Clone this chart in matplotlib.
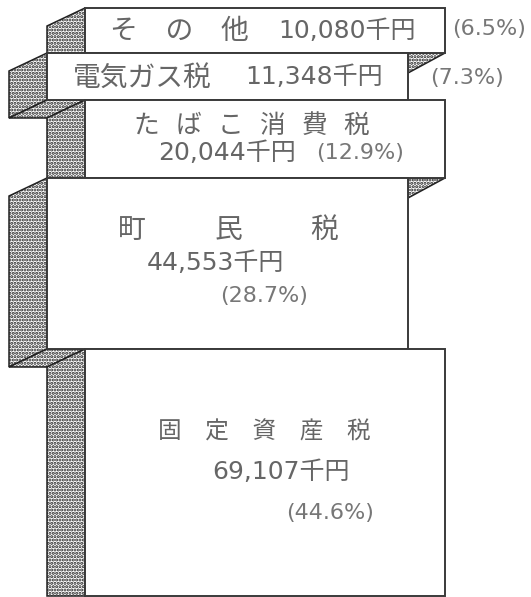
import matplotlib
matplotlib.use('Agg')
import matplotlib.pyplot as plt
from matplotlib.patches import Polygon, Rectangle

plt.rcParams['font.family'] = ['DejaVu Sans', 'Noto Sans CJK JP']
plt.rcParams['hatch.linewidth'] = 1.5

# Bands top to bottom: amounts in thousand yen, share, drawn height of each band
categories = ['その他', '電気ガス税', 'たばこ消費税', '町民税', '固定資産税']
amounts = ['10,080', '11,348', '20,044', '44,553', '69,107']
shares = [6.5, 7.3, 12.9, 28.7, 44.6]
drawn_heights = [45, 47, 78, 171, 247]

W, H = 531, 597
TOP = 8
XA, XB = 85, 445      # wide bands
XC, XD = 47, 408      # shifted bands
XE = 9                # far left of shifted flaps
DROP = 18
INK = '#3a3a3a'
TXT = '#666666'

fig = plt.figure(figsize=(W/100, H/100), dpi=100)
ax = fig.add_axes([0, 0, 1, 1])
ax.set_xlim(0, W); ax.set_ylim(H, 0); ax.axis('off')

def shade(pts):
    ax.add_patch(Polygon(pts, closed=True, facecolor='white', edgecolor='#222222',
                         hatch='.....', lw=1.1, zorder=2))

tops = [TOP]
for h in drawn_heights:
    tops.append(tops[-1] + h)

for i, h in enumerate(drawn_heights):
    t, b = tops[i], tops[i+1]
    if i % 2 == 0:
        shade([(XC, t + DROP), (XA, t), (XA, b), (XC, b)])
    else:
        shade([(XE, t + DROP), (XC, t), (XC, b), (XE, b + DROP)])
        shade([(XE, b + DROP), (XC, b), (XA, b), (XC, b + DROP)])
        shade([(XD, t), (XB, t), (XD, t + 20)])

for i, h in enumerate(drawn_heights):
    t = tops[i]
    x0, x1 = (XA, XB) if i % 2 == 0 else (XC, XD)
    ax.add_patch(Rectangle((x0, t), x1 - x0, h, facecolor='white', edgecolor=INK, lw=1.4, zorder=3))

kw = dict(color=TXT, va='center', ha='left', zorder=5)
pk = dict(color='#777777', va='center', ha='left', zorder=5)
AMT = 18
PCT = 16

ax.text(110, 31, 'そ\u3000の\u3000他', fontsize=20, **kw)
ax.text(278, 31, f'{amounts[0]}千円', fontsize=AMT, **kw)
ax.text(452, 29, f'({shares[0]}%)', fontsize=PCT, **pk)

ax.text(73, 78, '電気ガス税', fontsize=20, **kw)
ax.text(245, 77, f'{amounts[1]}千円', fontsize=AMT, **kw)
ax.text(430, 78, f'({shares[1]}%)', fontsize=PCT, **pk)

ax.text(134, 126, 'た  ば  こ  消  費  税', fontsize=18.5, **kw)
ax.text(158, 153, f'{amounts[2]}千円', fontsize=AMT, **kw)
ax.text(316, 153, f'({shares[2]}%)', fontsize=PCT, **pk)

ax.text(118, 230, '町', fontsize=20, **kw)
ax.text(215, 230, '民', fontsize=20, **kw)
ax.text(310, 230, '税', fontsize=20, **kw)
ax.text(147, 263, f'{amounts[3]}千円', fontsize=AMT, **kw)
ax.text(220, 296, f'({shares[3]}%)', fontsize=PCT, **pk)

ax.text(158, 432, '固\u3000定\u3000資\u3000産\u3000税', fontsize=17, **kw)
ax.text(212, 472, f'{amounts[4]}千円', fontsize=AMT, **kw)
ax.text(286, 513, f'({shares[4]}%)', fontsize=PCT, **pk)

fig.savefig('out.png', dpi=100)
